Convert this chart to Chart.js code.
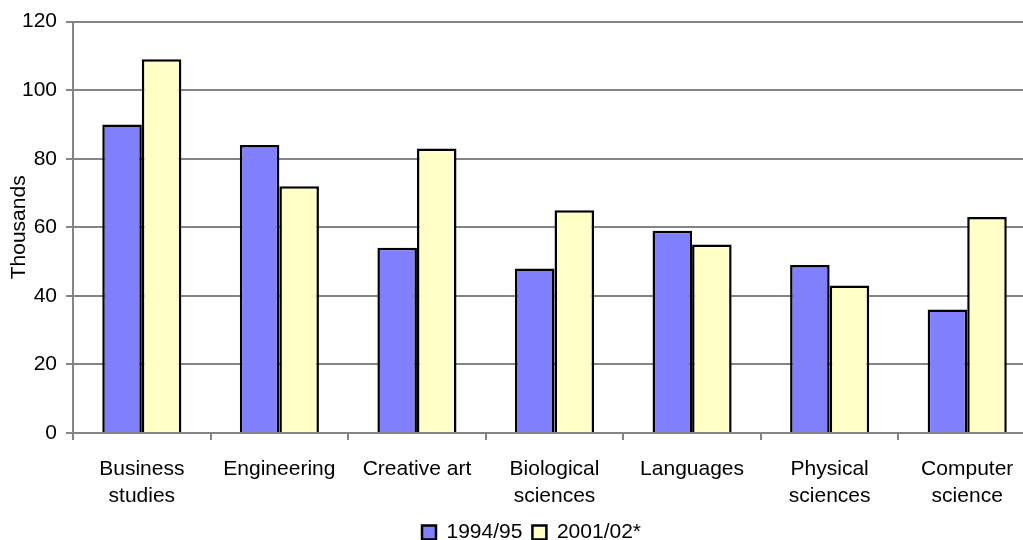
<!DOCTYPE html>
<html lang="en">
<head>
  <meta charset="UTF-8">
  <title>Students by subject</title>
  <script src="https://cdn.jsdelivr.net/npm/chart.js"></script>
  <style>
    html, body { margin: 0; padding: 0; background: #fff; overflow: hidden; }
    #wrap { position: relative; width: 1036px; height: 553px; }
  </style>
</head>
<body>
  <div id="wrap"><canvas id="chart"></canvas></div>

  <script>
    // subjects on the x axis (two-line labels)
    const subjects = [
      ['Business', 'studies'],
      ['Engineering'],
      ['Creative art'],
      ['Biological', 'sciences'],
      ['Languages'],
      ['Physical', 'sciences'],
      ['Computer', 'science']
    ];

    // thousands of students
    const year1994 = [90, 84, 54, 48, 59, 49, 36];
    const year2001 = [109, 72, 83, 65, 55, 43, 63];

    const seriesNames = ['1994/95', '2001/02*'];
    const yTicks = [0, 20, 40, 60, 80, 100, 120];

    const font = 'Liberation Sans, Arial, Helvetica, sans-serif';
    const gridGrey = '#848484';

    // legend sits a little right of the canvas centre in the original
    const nudgeLegend = {
      id: 'nudgeLegend',
      afterLayout(chart) {
        chart.legend.left += 9;
        chart.legend.right += 9;
      }
    };

    new Chart(document.getElementById('chart'), {
      type: 'bar',
      data: {
        labels: subjects,
        datasets: [
          {
            label: seriesNames[0],
            data: year1994,
            backgroundColor: '#8080FF',
            borderColor: '#000000',
            borderWidth: 2.5,
            categoryPercentage: 0.575,
            barPercentage: 1.0
          },
          {
            label: seriesNames[1],
            data: year2001,
            backgroundColor: '#FFFFC6',
            borderColor: '#000000',
            borderWidth: 2.5,
            categoryPercentage: 0.575,
            barPercentage: 1.0
          }
        ]
      },
      plugins: [nudgeLegend],
      options: {
        responsive: true,
        maintainAspectRatio: false,
        animation: false,
        layout: { padding: { left: 9, top: 14, right: 0, bottom: 0 } },
        plugins: {
          tooltip: { enabled: false },
          legend: {
            position: 'bottom',
            labels: {
              color: '#000',
              font: { family: font, size: 21 },
              boxWidth: 14,
              boxHeight: 14,
              padding: 10
            }
          }
        },
        scales: {
          x: {
            grid: {
              offset: true,
              drawOnChartArea: false,
              color: gridGrey,
              lineWidth: 2,
              tickLength: 7
            },
            border: { color: gridGrey, width: 2 },
            ticks: {
              color: '#000',
              font: { family: font, size: 21, lineHeight: '27px' },
              padding: 16,
              maxRotation: 0,
              autoSkip: false
            },
            afterFit: (scale) => { scale.height -= 14; }
          },
          y: {
            min: 0,
            max: 120,
            afterBuildTicks: (axis) => { axis.ticks = yTicks.map(v => ({ value: v })); },
            grid: {
              color: gridGrey,
              lineWidth: 2,
              tickLength: 7
            },
            border: { color: gridGrey, width: 2 },
            ticks: {
              color: '#000',
              font: { family: font, size: 21 },
              padding: 9
            },
            title: {
              display: true,
              text: 'Thousands',
              color: '#000',
              font: { family: font, size: 21, lineHeight: 1 },
              padding: { top: 0, bottom: -17 }
            }
          }
        }
      }
    });
  </script>
</body>
</html>
